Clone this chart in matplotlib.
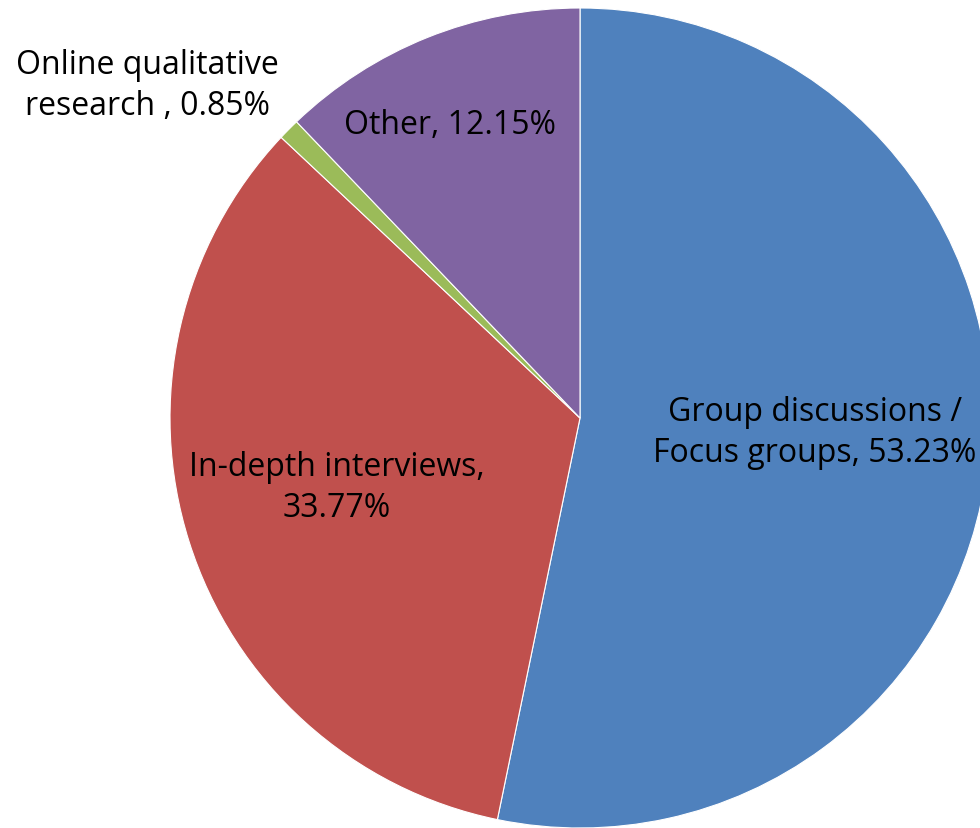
import matplotlib
matplotlib.use("Agg")
import matplotlib.pyplot as plt

labels = ["Group discussions /\nFocus groups, 53.23%",
          "In-depth interviews,\n33.77%",
          "Online qualitative\nresearch , 0.85%",
          "Other, 12.15%"]
values = [53.23, 33.77, 0.85, 12.15]
colors = ["#4F81BD", "#C0504D", "#9BBB59", "#8064A2"]

# label positions in pie units (radius 1)
label_pos = [(0.573, -0.034), (-0.593, -0.168), (-1.054, 0.812), (-0.317, 0.715)]

plt.rcParams['font.family'] = ['Open Sans', 'DejaVu Sans']

fig = plt.figure(figsize=(9.8, 8.29), dpi=100)
ax = fig.add_axes([170 / 980, 0 / 829, 820 / 980, 820 / 829])
wedges, _ = ax.pie(values, colors=colors, startangle=90, counterclock=False,
                   radius=1, wedgeprops=dict(edgecolor="white", linewidth=0.8))
for w in wedges:
    w.set_clip_on(False)
for lab, (x, y) in zip(labels, label_pos):
    ax.text(x, y, lab, ha="center", va="center", fontsize=23, color="black",
            linespacing=1.35, clip_on=False)
ax.set_xlim(-1, 1)
ax.set_ylim(-1, 1)
ax.set_aspect("equal")
ax.axis("off")

fig.savefig("out.png", dpi=100)
